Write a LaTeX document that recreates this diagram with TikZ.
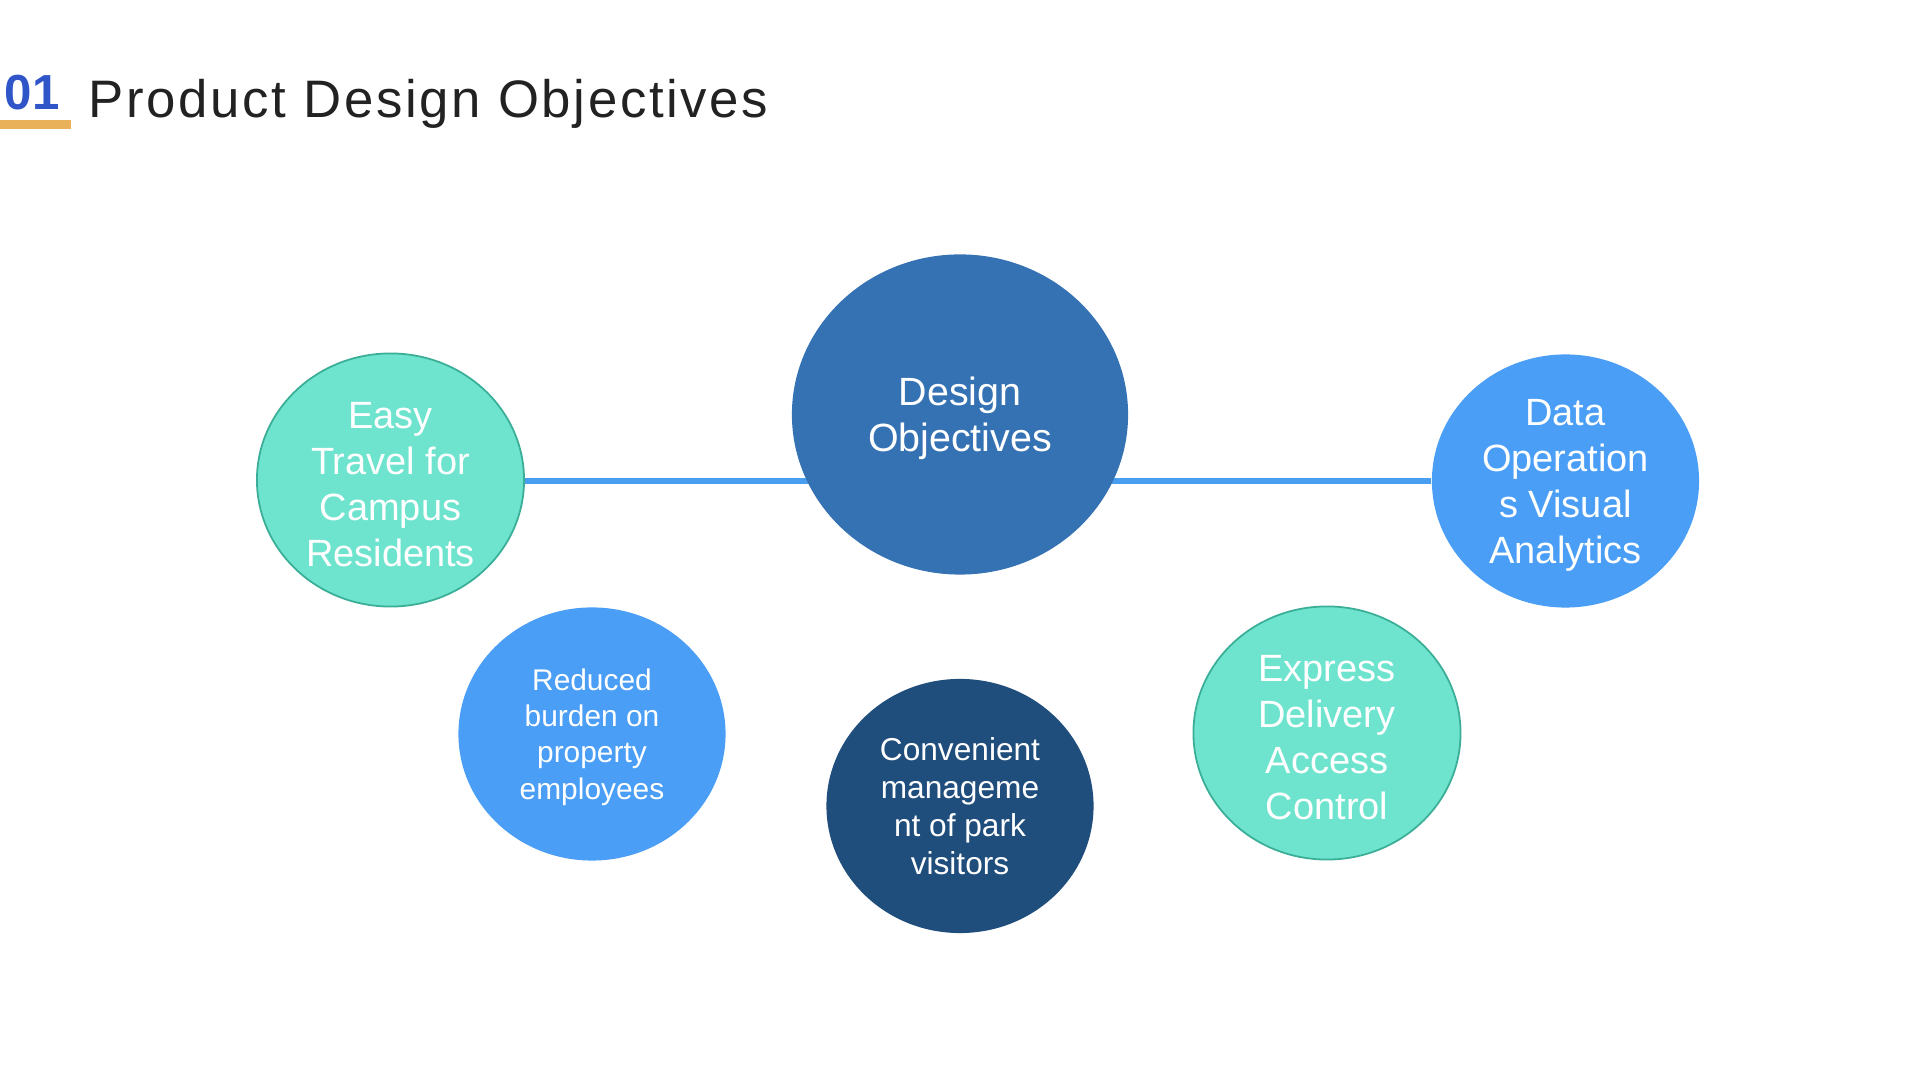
\documentclass[tikz,border=0pt]{standalone}
\usepackage{fontspec}
\setmainfont{Liberation Sans}
\newfontfamily\titlefont[LetterSpace=5]{Liberation Sans}
\usetikzlibrary{shapes.geometric}

\definecolor{numblue}{HTML}{2F55C8}
\definecolor{baryellow}{HTML}{E8B15A}
\definecolor{titlegray}{HTML}{222222}
\definecolor{midblue}{HTML}{3572B3}
\definecolor{skyblue}{HTML}{4A9EF5}
\definecolor{navyblue}{HTML}{1F4D7C}
\definecolor{aqua}{HTML}{6EE3CE}
\definecolor{aquaedge}{HTML}{3AAE97}
\definecolor{linkblue}{HTML}{4A9EF0}

% first-line strut, to sit the text a little lower in a bubble
\newcommand\bubtop{\rule{0pt}{0.93em}}

\tikzset{
  bubble/.style={ellipse, inner sep=-3pt, align=center, text=white,
    minimum width=2.67cm, minimum height=2.53cm,
    font=\fontsize{10.8}{13.1}\selectfont},
  aquabubble/.style={bubble, fill=aqua, draw=aquaedge, line width=0.5pt},
  bluebubble/.style={bubble, fill=skyblue},
  smalltext/.style={font=\fontsize{8.5}{10.3}\selectfont},
  link/.style={linkblue, line width=1.7pt}
}

\begin{document}
\begin{tikzpicture}[x=0.01cm, y=-0.01cm]
  % Page frame
  \useasboundingbox[fill=white] (0,0) rectangle (1920,1080);
  % Heading
  \fill[baryellow] (0,120) rectangle (71,129);
  \node[anchor=base west, inner sep=0pt, text=numblue,
    font=\fontsize{14}{14}\selectfont\bfseries] (num) at (4,110) {01};
  \node[anchor=base west, inner sep=0pt, text=titlegray,
    font=\fontsize{15}{15}\selectfont\titlefont] (title) at (88,118)
    {Product Design Objectives};
  % Side bubbles on the axis
  \node[aquabubble] (travel) at (390.5,480)
    {\bubtop Easy\\Travel for\\Campus\\Residents};
  \node[bluebubble] (data) at (1565.5,481)
    {\bubtop Data\\Operation\\s Visual\\Analytics};
  % Axis line (behind the centre)
  \draw[link] (travel.east |- 0,481) -- (data.west |- 0,481);
  % Centre bubble
  \node[bubble, fill=midblue, minimum width=3.36cm, minimum height=3.2cm,
    font=\fontsize{11.2}{13.2}\selectfont] (design) at (960,414.5)
    {\bubtop Design\\Objectives};
  % Lower bubbles
  \node[bluebubble, smalltext] (burden) at (592,734)
    {\bubtop Reduced\\burden on\\property\\employees};
  \node[bubble, fill=navyblue, minimum height=2.54cm,
    font=\fontsize{9}{10.8}\selectfont] (visitors) at (960,806)
    {Convenient\\manageme\\nt of park\\visitors};
  \node[aquabubble] (express) at (1327,733)
    {\bubtop Express\\Delivery\\Access\\Control};
\end{tikzpicture}
\end{document}
